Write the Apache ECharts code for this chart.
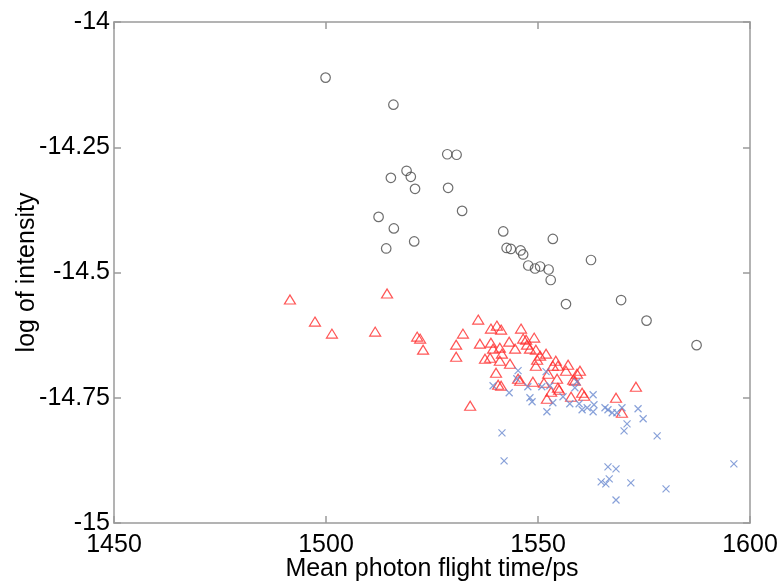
<!DOCTYPE html>
<html>
<head>
<meta charset="utf-8">
<script src="https://cdn.jsdelivr.net/npm/echarts@6/dist/echarts.min.js"></script>
<style>
  html, body { margin: 0; padding: 0; background: #fff; }
  #chart { width: 781px; height: 581px; }
</style>
</head>
<body>
<div id="chart"></div>
<script>
// Axis ticks
const xTicks = [1450, 1500, 1550, 1600];
const yTicks = [-15, -14.75, -14.5, -14.25, -14];

// Group 1 (open circles): mean flight time / ps
const circleTime = [1499.9, 1515.9, 1528.6, 1530.8, 1515.3, 1519.0, 1520.0, 1521.0, 1528.8, 1532.1,
  1512.4, 1516.0, 1514.2, 1520.8, 1541.8, 1542.6, 1543.6, 1545.9, 1546.5, 1547.7,
  1549.3, 1550.5, 1552.5, 1553.0, 1553.5, 1556.6, 1562.5, 1569.6, 1575.6, 1587.4];
// Group 1: log of intensity
const circleLogI = [-14.111, -14.165, -14.264, -14.265, -14.311, -14.297, -14.309, -14.333, -14.331, -14.377,
  -14.389, -14.412, -14.452, -14.438, -14.418, -14.451, -14.453, -14.456, -14.464, -14.486,
  -14.492, -14.488, -14.494, -14.515, -14.433, -14.563, -14.475, -14.555, -14.596, -14.645];

// Group 2 (open triangles)
const triTime = [1491.5, 1497.4, 1501.4, 1511.6, 1514.4, 1521.5, 1522.2, 1522.9, 1530.7, 1530.7,
  1532.3, 1535.9, 1536.3, 1534.0, 1538.9, 1540.3, 1541.3, 1538.9, 1539.4, 1541.0,
  1541.5, 1537.5, 1538.7, 1541.0, 1540.1, 1543.2, 1544.6, 1546.0, 1546.5, 1547.2,
  1549.1, 1547.4, 1549.5, 1551.9, 1549.8, 1549.5, 1543.4, 1541.3, 1545.8, 1548.8,
  1551.4, 1554.2, 1554.7, 1553.5, 1557.1, 1556.6, 1559.9, 1554.5, 1559.2, 1558.7,
  1554.7, 1552.1, 1557.8, 1560.4, 1560.9, 1568.4, 1573.1, 1569.8, 1545.3, 1552.4,
  1553.1, 1555.0, 1558.3, 1540.6, 1548.1, 1550.5];
const triLogI = [-14.554, -14.598, -14.622, -14.618, -14.542, -14.628, -14.632, -14.654, -14.644, -14.668,
  -14.622, -14.594, -14.642, -14.766, -14.612, -14.606, -14.614, -14.640, -14.652, -14.650,
  -14.662, -14.672, -14.670, -14.676, -14.700, -14.638, -14.652, -14.612, -14.632, -14.634,
  -14.630, -14.644, -14.654, -14.662, -14.674, -14.686, -14.682, -14.726, -14.716, -14.718,
  -14.720, -14.676, -14.686, -14.686, -14.684, -14.696, -14.696, -14.712, -14.702, -14.716,
  -14.730, -14.752, -14.748, -14.740, -14.746, -14.750, -14.728, -14.780, -14.712, -14.702,
  -14.738, -14.734, -14.714, -14.724, -14.652, -14.666];

// Group 3 (crosses)
const crossTime = [1539.4, 1543.2, 1545.3, 1545.0, 1547.6, 1548.1, 1548.6, 1550.9, 1551.9, 1552.1,
  1552.8, 1553.5, 1555.9, 1557.5, 1559.2, 1558.7, 1559.7, 1560.4, 1561.6, 1563.0,
  1563.2, 1563.0, 1565.8, 1566.5, 1567.5, 1568.6, 1569.8, 1573.6, 1574.8, 1571.0,
  1570.3, 1578.1, 1541.5, 1542.0, 1566.5, 1568.4, 1566.8, 1564.9, 1566.0, 1571.9,
  1580.2, 1568.4, 1596.2];
const crossLogI = [-14.726, -14.740, -14.696, -14.712, -14.728, -14.750, -14.758, -14.728, -14.698, -14.778,
  -14.726, -14.760, -14.748, -14.762, -14.718, -14.730, -14.762, -14.774, -14.770, -14.744,
  -14.764, -14.778, -14.770, -14.774, -14.780, -14.780, -14.770, -14.772, -14.792, -14.802,
  -14.816, -14.826, -14.820, -14.876, -14.888, -14.892, -14.912, -14.918, -14.922, -14.920,
  -14.932, -14.954, -14.882];

const pairs = (xs, ys) => xs.map((x, i) => [x, ys[i]]);

const FONT = "'Liberation Sans', Arial, Helvetica, sans-serif";
const axisColor = '#9a9a9a';

function xAxisDef(pos, showLabels) {
  return {
    type: 'value', position: pos, min: 1450, max: 1600, interval: 50,
    name: showLabels ? 'Mean photon flight time/ps' : '',
    nameLocation: 'middle', nameGap: 34, nameMoveOverlap: false,
    nameTextStyle: { fontFamily: FONT, fontSize: 25, color: '#000' },
    axisLine: { show: true, onZero: false, lineStyle: { color: axisColor, width: 1.5 } },
    axisTick: { show: true, inside: true, length: 7, lineStyle: { color: axisColor, width: 1.5 } },
    axisLabel: { show: showLabels, margin: 10, fontFamily: FONT, fontSize: 25, color: '#000',
      formatter: v => xTicks.includes(v) ? String(v) : '' },
    splitLine: { show: false }
  };
}
function yAxisDef(pos, showLabels) {
  return {
    type: 'value', position: pos, min: -15, max: -14, interval: 0.25,
    name: showLabels ? 'log of intensity' : '',
    nameLocation: 'middle', nameGap: 74, nameRotate: 90, nameMoveOverlap: false,
    nameTextStyle: { fontFamily: FONT, fontSize: 25, color: '#000' },
    axisLine: { show: true, onZero: false, lineStyle: { color: axisColor, width: 1.5 } },
    axisTick: { show: true, inside: true, length: 7, lineStyle: { color: axisColor, width: 1.5 } },
    axisLabel: { show: showLabels, margin: 4, fontFamily: FONT, fontSize: 25, color: '#000',
      formatter: v => yTicks.includes(v) ? String(v) : '' },
    splitLine: { show: false }
  };
}

const chart = echarts.init(document.getElementById('chart'), null, { renderer: 'canvas' });
chart.setOption({
  animation: false,
  backgroundColor: '#fff',
  grid: { left: 114, top: 22, right: 31, bottom: 58, containLabel: false, outerBoundsMode: 'none' },
  xAxis: [xAxisDef('bottom', true), xAxisDef('top', false)],
  yAxis: [yAxisDef('left', true), yAxisDef('right', false)],
  series: [
    {
      type: 'scatter', data: pairs(circleTime, circleLogI),
      symbol: 'circle', symbolSize: 9.5,
      itemStyle: { color: 'rgba(0,0,0,0)', borderColor: '#4a4a4a', borderWidth: 1.2 }
    },
    {
      type: 'scatter', data: pairs(triTime, triLogI),
      symbol: 'triangle', symbolSize: [11, 9],
      itemStyle: { color: 'rgba(0,0,0,0)', borderColor: '#ff2a2a', borderWidth: 1.2 }
    },
    {
      type: 'scatter', data: pairs(crossTime, crossLogI),
      symbol: 'path://M0,0L10,10M0,10L10,0', symbolSize: 7,
      itemStyle: { color: 'rgba(0,0,0,0)', borderColor: '#6a8ad0', borderWidth: 1.2 }
    }
  ]
});
</script>
</body>
</html>
